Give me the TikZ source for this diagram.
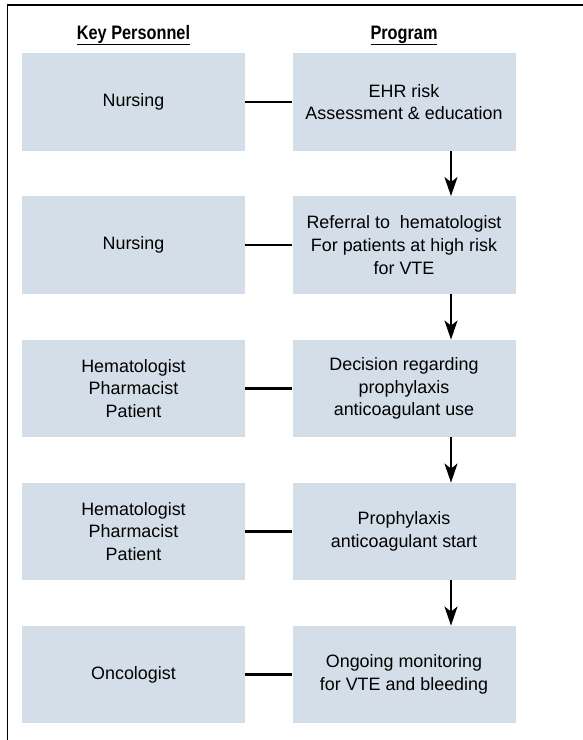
\documentclass[tikz,border=0pt]{standalone}
\usepackage{fontspec}
\setmainfont{Liberation Sans}
\usetikzlibrary{arrows.meta}
\definecolor{boxfill}{HTML}{D4DEE9}
\begin{document}
\begin{tikzpicture}[x=1pt,y=-1pt,
  cell/.style={fill=boxfill,draw=none,minimum width=223pt,minimum height=97.5pt,
    align=center,inner sep=0pt,font=\fontsize{17.9}{22.7}\selectfont},
  hdr/.style={font=\fontsize{19.5}{22}\selectfont\bfseries,xscale=0.835,anchor=base},
  link/.style={line width=2.2pt},
  flow/.style={line width=2.2pt,-{Stealth[length=19pt,width=13pt,inset=5pt]}}]
\useasboundingbox (0,0) rectangle (583,740);
\draw[line width=1.3pt] (7.5,740) -- (7.5,5) -- (583,5);
\node[hdr] (h1) at (133.5,39) {\underline{Key Personnel}};
\node[hdr] (h2) at (404,39) {\underline{Program}};
\node[cell] (L1) at (133.5,102) {Nursing};
\node[cell] (R1) at (404,102) {EHR risk\\Assessment \& education};
\node[cell] (L2) at (133.5,245) {Nursing};
\node[cell] (R2) at (404,245) {Referral to~ hematologist\\For patients at high risk\\for VTE};
\node[cell] (L3) at (133.5,388.5) {Hematologist\\Pharmacist\\Patient};
\node[cell] (R3) at (404,388.5) {Decision regarding\\prophylaxis\\anticoagulant use};
\node[cell] (L4) at (133.5,531.5) {Hematologist\\Pharmacist\\Patient};
\node[cell] (R4) at (404,531.5) {Prophylaxis\\anticoagulant start};
\node[cell] (L5) at (133.5,674.5) {Oncologist};
\node[cell] (R5) at (404,674.5) {Ongoing monitoring\\for VTE and bleeding};
\foreach \i in {1,...,5}{
  \draw[link] (L\i.east) -- (R\i.west);
}
\foreach \i/\j in {1/2,2/3,3/4,4/5}{
  \draw[flow] ([xshift=47pt]R\i.south) -- ([xshift=47pt]R\j.north);
}
\end{tikzpicture}
\end{document}
